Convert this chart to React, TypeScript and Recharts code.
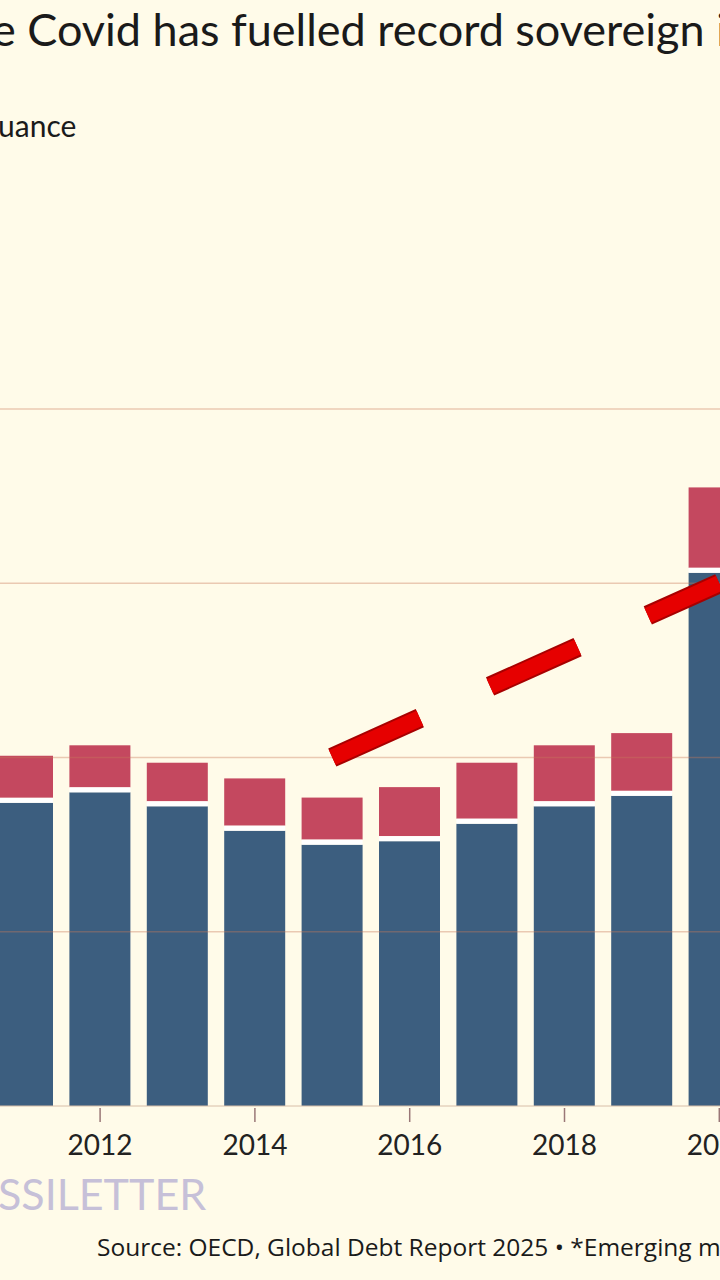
import React from "react";
import {
  ComposedChart,
  Bar,
  Line,
  XAxis,
  YAxis,
  ReferenceLine,
} from "recharts";

// $tn
const years = ["2011", "2012", "2013", "2014", "2015", "2016", "2017", "2018", "2019", "2020"];
const oecd = [8.7, 9.0, 8.6, 7.9, 7.5, 7.6, 8.1, 8.6, 8.9, 15.3];
const emerging = [1.35, 1.35, 1.25, 1.5, 1.35, 1.55, 1.75, 1.75, 1.8, 2.45];
const trend = [null, null, null, null, 10, null, null, null, null, 15];
const yTicks = [0, 5, 10, 15, 20];
const labelYears = ["2012", "2014", "2016", "2018", "2020"];

const data = years.map((year, i) => ({
  year,
  oecd: oecd[i],
  emerging: emerging[i],
  trend: trend[i],
}));

const BG = "#fffbe9";
const BLUE = "#3c5e7f";
const RED = "#c4485f";
const FONT = "Lato, 'Open Sans', sans-serif";

function EmergingShape(props: any) {
  const { x, y, width, height } = props;
  if (!height || height <= 0) return null;
  const gap = 5;
  return (
    <g>
      <rect x={x} y={y} width={width} height={Math.max(height - gap, 0)} fill={RED} />
      <rect x={x} y={y + height - gap} width={width} height={gap} fill="#ffffff" />
    </g>
  );
}

function YearTick(props: any) {
  const { x, y, payload } = props;
  if (!labelYears.includes(payload.value)) return null;
  return (
    <g>
      <line x1={x} x2={x} y1={y + 2} y2={y + 16} stroke="#9a7777" strokeWidth={1.5} />
      <text x={x} y={y + 49} textAnchor="middle" fill="#222" fontSize={28} fontFamily={FONT}>
        {payload.value}
      </text>
    </g>
  );
}

export default function App() {
  return (
    <div
      style={{
        position: "fixed",
        left: 0,
        top: 0,
        width: 720,
        height: 1280,
        overflow: "hidden",
        background: BG,
        fontFamily: FONT,
        color: "#1a1a1a",
      }}
    >
      <div
        style={{
          position: "absolute",
          left: -8,
          top: 2,
          fontSize: 45,
          lineHeight: 1.2,
          whiteSpace: "nowrap",
        }}
      >
        e Covid has fuelled record sovereign i
      </div>
      <div
        style={{
          position: "absolute",
          left: -2,
          top: 107,
          fontSize: 30,
          lineHeight: 1.2,
          whiteSpace: "nowrap",
        }}
      >
        uance
      </div>

      <div style={{ position: "absolute", left: -16, top: 0 }}>
        <ComposedChart
          width={774}
          height={1180}
          data={data}
          margin={{ top: 409, right: 0, left: 0, bottom: 0 }}
        >
          <XAxis
            dataKey="year"
            height={74}
            tickSize={0}
            tickMargin={0}
            interval={0}
            tick={<YearTick />}
            axisLine={{ stroke: "#d8bea8" }}
            tickLine={false}
          />
          <YAxis hide domain={[0, 20]} ticks={yTicks} />
          <Bar dataKey="oecd" stackId="a" fill={BLUE} barSize={61} isAnimationActive={false} />
          <Bar
            dataKey="emerging"
            stackId="a"
            barSize={61}
            shape={<EmergingShape />}
            isAnimationActive={false}
          />
          {yTicks.slice(1).map((t) => (
            <ReferenceLine key={t} y={t} stroke="rgba(200,120,90,0.38)" strokeWidth={1.5} />
          ))}
          <Line
            dataKey="trend"
            connectNulls
            stroke="#a80000"
            strokeWidth={20}
            strokeDasharray="96 77"
            dot={false}
            activeDot={false}
            isAnimationActive={false}
          />
          <Line
            dataKey="trend"
            connectNulls
            stroke="#e60000"
            strokeWidth={16}
            strokeDasharray="96 77"
            dot={false}
            activeDot={false}
            isAnimationActive={false}
          />
        </ComposedChart>
      </div>

      <div
        style={{
          position: "absolute",
          left: -2,
          top: 1168,
          fontSize: 43,
          lineHeight: 1.2,
          color: "#c6c0d8",
          whiteSpace: "nowrap",
        }}
      >
        SSILETTER
      </div>
      <div
        style={{
          position: "absolute",
          left: 97,
          top: 1232,
          fontSize: 24.5,
          lineHeight: 1.2,
          fontFamily: "'Open Sans', sans-serif",
          whiteSpace: "nowrap",
        }}
      >
        Source: OECD, Global Debt Report 2025 • *Emerging m
      </div>
    </div>
  );
}
